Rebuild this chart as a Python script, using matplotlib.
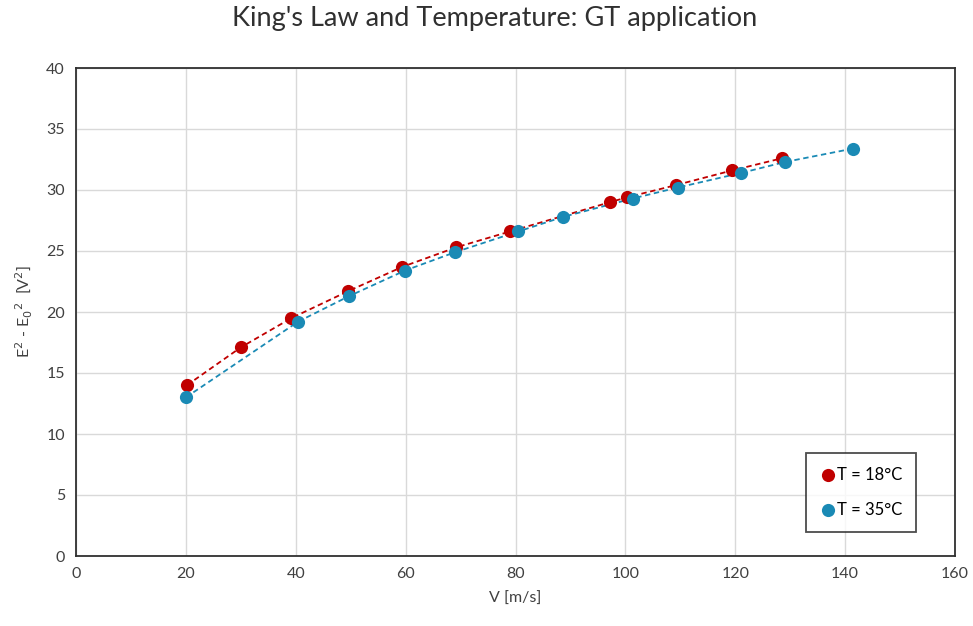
import matplotlib.pyplot as plt

plt.rcParams['font.family'] = ['Lato', 'DejaVu Sans']

# T = 18 C
V18 = [20.2, 30.0, 39.2, 49.5, 59.4, 69.2, 79.0, 97.2, 100.3, 109.2, 119.4, 128.5]
E18 = [14.0, 17.1, 19.5, 21.7, 23.7, 25.3, 26.6, 29.0, 29.4, 30.4, 31.6, 32.6]
# T = 35 C
V35 = [20.0, 40.4, 49.7, 59.9, 69.0, 80.5, 88.7, 101.3, 109.5, 121.1, 129.1, 141.5]
E35 = [13.0, 19.2, 21.3, 23.4, 24.9, 26.6, 27.8, 29.3, 30.2, 31.4, 32.3, 33.4]

red = "#c00000"
blue = "#1a8ab5"

fig = plt.figure(figsize=(9.73, 6.26), dpi=100)
ax = fig.add_axes([76/973, 1-556/626, (955-76)/973, (556-68)/626])

for x, y, c, lab in [(V18, E18, red, "T = 18°C"), (V35, E35, blue, "T = 35°C")]:
    ax.plot(x, y, ls=(0, (3, 2)), c=c, lw=1.3, zorder=2)
    ax.scatter(x, y, s=90, c=c, label=lab, zorder=3, linewidths=0)

ax.set_xlim(0, 160)
ax.set_ylim(0, 40)
ax.set_xticks(range(0, 161, 20))
ax.set_yticks(range(0, 41, 5))
ax.grid(color="#d9d9d9", lw=1)
ax.set_axisbelow(True)
ax.tick_params(length=0, labelsize=11.5, colors="#404040", pad=8)
for s in ax.spines.values():
    s.set_color("#303030")
    s.set_linewidth(1.3)

ax.set_xlabel("V [m/s]", fontsize=11.5, color="#404040", labelpad=8)
ax.set_ylabel("E$^2$ - E$_0$$^2$  [V$^2$]", fontsize=11.5, color="#404040", labelpad=8)
fig.suptitle("King's Law and Temperature: GT application", fontsize=19.5, color="#303030",
             x=495/973, y=0.99)

leg = ax.legend(loc="lower right", bbox_to_anchor=(916/973, 1-532/626), bbox_transform=fig.transFigure,
                fontsize=12, handletextpad=0.0, borderpad=0.85, labelspacing=1.15, fancybox=False,
                handlelength=1.0, borderaxespad=0)
leg.get_frame().set_edgecolor("#202020")
leg.get_frame().set_linewidth(1.3)

fig.savefig("out.png", dpi=100)
